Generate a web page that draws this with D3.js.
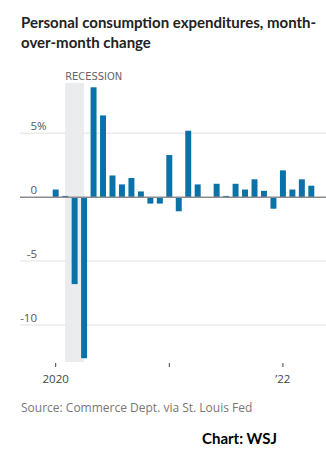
<!DOCTYPE html>
<html>
  <head>
    <meta charset="utf-8" />
    <title>Personal consumption expenditures</title>
    <style>
      body { margin: 0; background: #fff; }
      svg { display: block; }
      .title { font-family: Lato, sans-serif; font-weight: 700; font-size: 15px; fill: #222; }
      .tick-label { font-family: 'Open Sans', sans-serif; font-size: 11.5px; fill: #555; }
      .source { font-family: 'Open Sans', sans-serif; font-size: 12px; fill: #777; }
      .credit { font-family: Lato, sans-serif; font-weight: 700; font-size: 15px; fill: #000; }
      .recession-label { font-family: 'DejaVu Sans Condensed', 'Roboto', sans-serif; font-size: 11px; fill: #666; }
    </style>
    <script src="https://d3js.org/d3.v7.min.js"></script>
  </head>
  <body>
    <svg width="326" height="467"></svg>
    <script>
      var svg = d3.select('svg')

      // monthly change, Jan 2020 - Apr 2022
      var months = [
        '2020-01', '2020-02', '2020-03', '2020-04', '2020-05', '2020-06', '2020-07',
        '2020-08', '2020-09', '2020-10', '2020-11', '2020-12', '2021-01', '2021-02',
        '2021-03', '2021-04', '2021-05', '2021-06', '2021-07', '2021-08', '2021-09',
        '2021-10', '2021-11', '2021-12', '2022-01', '2022-02', '2022-03', '2022-04'
      ]
      var values = [
        0.6, 0.1, -6.8, -12.6, 8.6, 6.4, 1.7,
        1.0, 1.5, 0.45, -0.5, -0.5, 3.3, -1.1,
        5.2, 1.0, 0.0, 1.05, 0.1, 1.05, 0.6,
        1.4, 0.5, -0.9, 2.1, 0.6, 1.4, 0.9
      ]
      var recession = ['2020-02', '2020-04']
      var yTicks = [5, 0, -5, -10]
      var xTicks = ['2020-01', '2021-01', '2022-01']
      var xTickLabels = ['2020', '', '\u201922']

      var x = d3.scaleBand().domain(months).range([49.2, 317.8]).padding(0.37)
      var y = d3.scaleLinear().domain([-10, 5]).range([325, 133.3])

      var center = function (m) { return x(m) + x.bandwidth() / 2 }

      // title
      svg.append('text').attr('class', 'title').attr('x', 21).attr('y', 28)
        .text('Personal consumption expenditures, month-')
      svg.append('text').attr('class', 'title').attr('x', 21).attr('y', 48)
        .text('over-month change')

      // recession shading
      svg.append('rect')
        .attr('x', center(recession[0]))
        .attr('y', 83)
        .attr('width', center(recession[1]) - center(recession[0]))
        .attr('height', 362 - 83)
        .attr('fill', '#ebecee')
      svg.append('text').attr('class', 'recession-label')
        .attr('x', center(recession[0]))
        .attr('y', 80)
        .text('RECESSION')

      // gridlines
      svg.selectAll('.grid')
        .data(yTicks.filter(function (d) { return d !== 0 }))
        .enter()
        .append('line')
        .attr('class', 'grid')
        .attr('x1', 20).attr('x2', 326)
        .attr('y1', function (d) { return y(d) })
        .attr('y2', function (d) { return y(d) })
        .attr('stroke', '#ebebeb')
        .attr('stroke-width', 1.5)

      // y labels, number right-aligned with the % hanging
      var yl = svg.selectAll('.ylab')
        .data(yTicks)
        .enter()
        .append('g')
        .attr('class', 'ylab')
      yl.append('text').attr('class', 'tick-label')
        .attr('x', 37)
        .attr('y', function (d) { return y(d) - 3.5 })
        .attr('text-anchor', 'end')
        .text(function (d) { return d })
      yl.filter(function (d) { return d === 5 })
        .append('text').attr('class', 'tick-label')
        .attr('x', 37)
        .attr('y', function (d) { return y(d) - 3.5 })
        .text('%')

      // bars
      svg.selectAll('.bar')
        .data(values)
        .enter()
        .append('rect')
        .attr('class', 'bar')
        .attr('x', function (d, i) { return x(months[i]) })
        .attr('width', x.bandwidth())
        .attr('y', function (d) { return y(Math.max(0, d)) })
        .attr('height', function (d) { return Math.abs(y(d) - y(0)) })
        .attr('fill', '#0b72a7')

      // zero line
      svg.append('line')
        .attr('x1', 20).attr('x2', 326)
        .attr('y1', y(0)).attr('y2', y(0))
        .attr('stroke', '#8c8c8c')
        .attr('stroke-width', 1.5)

      // x ticks
      svg.selectAll('.xtick')
        .data(xTicks)
        .enter()
        .append('line')
        .attr('class', 'xtick')
        .attr('x1', center).attr('x2', center)
        .attr('y1', 363).attr('y2', 367)
        .attr('stroke', '#444')
        .attr('stroke-width', 1)
      svg.selectAll('.xlab')
        .data(xTicks)
        .enter()
        .append('text')
        .attr('class', 'tick-label')
        .attr('x', center)
        .attr('y', 383)
        .attr('text-anchor', 'middle')
        .style('fill', '#444')
        .text(function (d, i) { return xTickLabels[i] })

      // footer
      svg.append('text').attr('class', 'source').attr('x', 21).attr('y', 412)
        .text('Source: Commerce Dept. via St. Louis Fed')
      svg.append('text').attr('class', 'credit').attr('x', 202).attr('y', 444)
        .text('Chart: WSJ')
    </script>
  </body>
</html>
